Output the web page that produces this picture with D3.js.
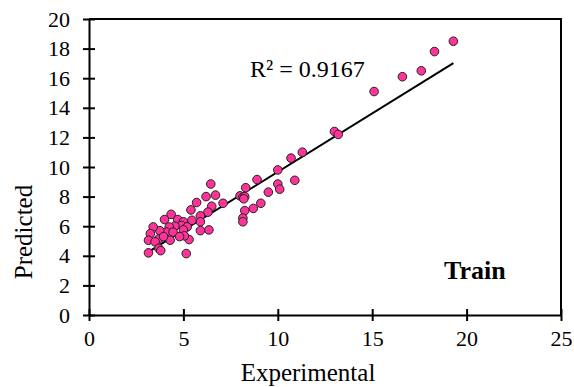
<!DOCTYPE html>
<html>
<head>
<meta charset="utf-8">
<script src="https://cdn.jsdelivr.net/npm/d3@7"></script>
<style>
  body { margin: 0; background: #fff; }
  svg text { font-family: "Liberation Serif", serif; fill: #000; }
</style>
</head>
<body>
<div id="chart"></div>
<script>
// experimental / predicted values (train set)
var experimental = [19.3, 18.3, 17.6, 16.6, 15.1, 13.0, 13.2, 11.3, 10.7, 10.0, 10.9, 10.0, 10.1, 9.5, 9.1,
    8.9, 8.3, 8.0, 8.15, 8.25, 8.2, 8.7, 8.25, 8.15, 8.15, 6.45, 6.2, 6.7, 6.5, 7.1, 5.7, 5.4, 6.3, 5.9,
    5.9, 6.35, 5.9, 4.35, 4.0, 4.7, 5.0, 4.9, 5.45, 5.2, 4.55, 4.25, 4.1, 4.45, 3.75, 3.4, 3.25, 3.15,
    3.7, 3.5, 4.3, 3.95, 5.0, 5.3, 5.05, 4.8, 3.15, 3.7, 3.8, 5.15];
var predicted = [18.5, 17.8, 16.5, 16.1, 15.1, 12.4, 12.2, 11.0, 10.6, 9.8, 9.1, 8.85, 8.5, 8.3, 7.55,
    9.15, 8.6, 8.05, 7.95, 8.0, 7.85, 7.2, 7.05, 6.55, 6.3, 8.85, 8.0, 8.1, 7.35, 7.55, 7.6, 7.1, 6.95, 6.7,
    6.3, 5.75, 5.7, 6.8, 6.45, 6.45, 6.3, 6.05, 6.4, 5.95, 6.0, 5.95, 5.6, 5.6, 5.7, 5.95, 5.5, 5.05,
    5.15, 4.95, 5.05, 5.3, 5.75, 5.1, 5.35, 5.3, 4.2, 4.5, 4.35, 4.15];
var xTicks = [0, 5, 10, 15, 20, 25];
var yTicks = [0, 2, 4, 6, 8, 10, 12, 14, 16, 18, 20];
// linear trend line
var trendSlope = 0.79;
var trendIntercept = 1.77;
var r2Label = 'R² = 0.9167';

var width = 574, height = 387;
var margin = { left: 89, right: 13, top: 19, bottom: 72 };
var serif = '"Liberation Serif", serif';

var svg = d3.select('#chart').append('svg')
    .attr('width', width)
    .attr('height', height);

var x = d3.scaleLinear().domain([0, 25]).range([margin.left, width - margin.right]);
var y = d3.scaleLinear().domain([0, 20]).range([height - margin.bottom, margin.top]);

var data = experimental.map(function(d, i) {
    return { x: d, y: predicted[i] };
});

// frame (top and right)
svg.append('path')
    .attr('d', 'M' + x(0) + ',' + y(20) + 'H' + x(25) + 'V' + y(0))
    .attr('fill', 'none')
    .attr('stroke', '#000')
    .attr('stroke-width', 2);

var xAxis = svg.append('g')
    .attr('transform', 'translate(0,' + y(0) + ')')
    .call(d3.axisBottom(x).tickValues(xTicks).tickSize(6).tickSizeOuter(0).tickPadding(9));
xAxis.selectAll('.tick line').attr('y1', -6);

var yAxis = svg.append('g')
    .attr('transform', 'translate(' + x(0) + ',0)')
    .call(d3.axisLeft(y).tickValues(yTicks).tickSize(6).tickSizeOuter(0).tickPadding(13));
yAxis.selectAll('.tick line').attr('x1', 6);

[xAxis, yAxis].forEach(function(g) {
    g.attr('font-family', serif).attr('font-size', 22);
    g.selectAll('.tick text').attr('font-family', serif).attr('font-size', 22);
});
svg.selectAll('.domain').attr('stroke', '#000').attr('stroke-width', 2);
svg.selectAll('.tick line').attr('stroke', '#000').attr('stroke-width', 2);

// trend line
var xMin = d3.min(experimental), xMax = d3.max(experimental);
svg.append('line')
    .attr('x1', x(xMin))
    .attr('y1', y(trendIntercept + trendSlope * xMin))
    .attr('x2', x(xMax))
    .attr('y2', y(trendIntercept + trendSlope * xMax))
    .attr('stroke', '#000')
    .attr('stroke-width', 2);

svg.selectAll('circle.dot')
    .data(data)
    .enter()
    .append('circle')
    .attr('class', 'dot')
    .attr('cx', function(d) { return x(d.x); })
    .attr('cy', function(d) { return y(d.y); })
    .attr('r', 4.3)
    .attr('fill', '#ff3399')
    .attr('stroke', '#222')
    .attr('stroke-width', 1);

svg.append('text')
    .attr('x', 250)
    .attr('y', 77)
    .attr('font-family', serif)
    .attr('font-size', 24)
    .text(r2Label);

svg.append('text')
    .attr('x', 444)
    .attr('y', 279)
    .attr('font-family', serif)
    .attr('font-size', 26)
    .attr('font-weight', 'bold')
    .text('Train');

svg.append('text')
    .attr('x', 308)
    .attr('y', 381)
    .attr('text-anchor', 'middle')
    .attr('font-family', serif)
    .attr('font-size', 25)
    .text('Experimental');

svg.append('text')
    .attr('transform', 'translate(32,232) rotate(-90)')
    .attr('text-anchor', 'middle')
    .attr('font-family', serif)
    .attr('font-size', 25)
    .text('Predicted');
</script>
</body>
</html>
